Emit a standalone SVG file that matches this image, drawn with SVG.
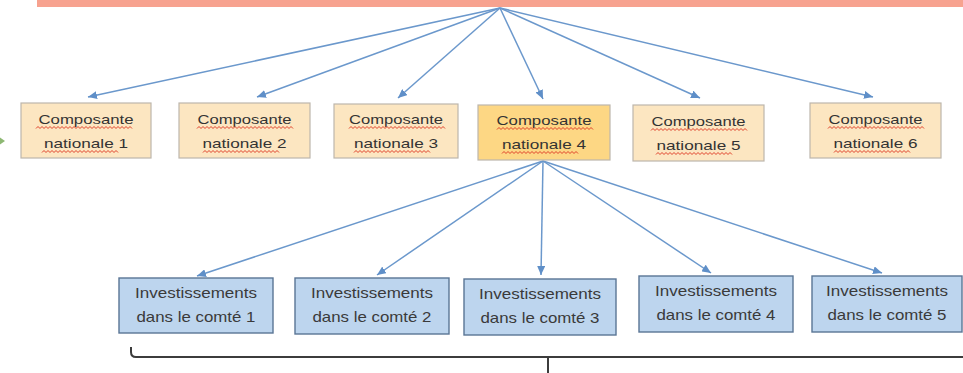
<svg xmlns="http://www.w3.org/2000/svg" width="963" height="373" viewBox="0 0 963 373">
<style>
.yb{fill:#FCE6C1;stroke:#BDB6AC;stroke-width:1.2}
.yb4{fill:#FDD784;stroke:#BDB6AC;stroke-width:1.2}
.bb{fill:#BDD5EE;stroke:#5A7595;stroke-width:1.4}
.t{font-family:"Liberation Sans","Open Sans",sans-serif;font-size:13.5px;fill:#333333;text-anchor:middle}
.tb{font-family:"Liberation Sans","Open Sans",sans-serif;font-size:14.5px;fill:#3A3A3A;text-anchor:middle}
.arr{fill:none;stroke:#6B98CC;stroke-width:1.5;marker-end:url(#ah)}
.sq{fill:none;stroke:#E0402A;stroke-width:1}
</style>
<defs>
<marker id="ah" markerUnits="userSpaceOnUse" markerWidth="10" markerHeight="8" refX="9" refY="4" orient="auto">
<path d="M0,0 L9,4 L0,8 z" fill="#5F8FC8"/>
</marker>
<path id="sqC" class="sq" d="M0,2 l2,-2 2,2 2,-2 2,2 2,-2 2,2 2,-2 2,2 2,-2 2,2 2,-2 2,2 2,-2 2,2 2,-2 2,2 2,-2 2,2 2,-2 2,2 2,-2 2,2 2,-2 2,2 2,-2 2,2 2,-2 2,2 2,-2 2,2 2,-2 2,2 2,-2 2,2 2,-2 2,2 2,-2 2,2 2,-2 2,2 2,-2 2,2 2,-2 2,2 2,-2 2,2 2,-2 2,2"/>
<path id="sqN" class="sq" d="M0,2 l2,-2 2,2 2,-2 2,2 2,-2 2,2 2,-2 2,2 2,-2 2,2 2,-2 2,2 2,-2 2,2 2,-2 2,2 2,-2 2,2 2,-2 2,2 2,-2 2,2 2,-2 2,2 2,-2 2,2 2,-2 2,2 2,-2 2,2 2,-2 2,2 2,-2 2,2 2,-2 2,2 2,-2 2,2"/>
</defs>
<rect x="0" y="0" width="963" height="373" fill="#FFFFFF"/>
<rect id="topbar" x="37" y="0" width="926" height="7" fill="#F7A28F"/>
<polygon points="0,137.5 5,141 0,144.5" fill="#8DB873"/>

<g id="connectors">
<line class="arr" x1="500" y1="8" x2="88" y2="97"/>
<line class="arr" x1="500" y1="8" x2="257" y2="97"/>
<line class="arr" x1="500" y1="8" x2="398" y2="98"/>
<line class="arr" x1="500" y1="8" x2="543" y2="99"/>
<line class="arr" x1="500" y1="8" x2="700" y2="98"/>
<line class="arr" x1="500" y1="8" x2="873" y2="97"/>
<line class="arr" x1="543" y1="161" x2="197" y2="276"/>
<line class="arr" x1="543" y1="161" x2="377" y2="275"/>
<line class="arr" x1="543" y1="161" x2="541" y2="275"/>
<line class="arr" x1="543" y1="161" x2="711" y2="273"/>
<line class="arr" x1="543" y1="161" x2="882" y2="273"/>
</g>

<g id="nat1">
<rect class="yb" x="21" y="103" width="130" height="55"/>
<text class="t" x="86" y="124" textLength="95" lengthAdjust="spacingAndGlyphs">Composante</text>
<text class="t" x="86" y="148" textLength="84" lengthAdjust="spacingAndGlyphs">nationale 1</text>
<use href="#sqC" x="36" y="126.5"/><use href="#sqN" x="42" y="150.5"/>
</g>
<g id="nat2">
<rect class="yb" x="179" y="103" width="131" height="55"/>
<text class="t" x="244.5" y="124" textLength="94" lengthAdjust="spacingAndGlyphs">Composante</text>
<text class="t" x="244.5" y="148" textLength="84" lengthAdjust="spacingAndGlyphs">nationale 2</text>
<use href="#sqC" x="197" y="126.5"/><use href="#sqN" x="203" y="150.5"/>
</g>
<g id="nat3">
<rect class="yb" x="334" y="104" width="124" height="54"/>
<text class="t" x="396" y="124" textLength="94" lengthAdjust="spacingAndGlyphs">Composante</text>
<text class="t" x="396" y="148" textLength="84" lengthAdjust="spacingAndGlyphs">nationale 3</text>
<use href="#sqC" x="349" y="126.5"/><use href="#sqN" x="354" y="150.5"/>
</g>
<g id="nat4">
<rect class="yb4" x="478" y="105" width="132" height="55"/>
<text class="t" x="544" y="125" textLength="95" lengthAdjust="spacingAndGlyphs">Composante</text>
<text class="t" x="544" y="149" textLength="84" lengthAdjust="spacingAndGlyphs">nationale 4</text>
<use href="#sqC" x="497" y="127.5"/><use href="#sqN" x="502" y="151.5"/>
</g>
<g id="nat5">
<rect class="yb" x="633" y="105" width="131" height="56"/>
<text class="t" x="698.5" y="126" textLength="94" lengthAdjust="spacingAndGlyphs">Composante</text>
<text class="t" x="698.5" y="150" textLength="84" lengthAdjust="spacingAndGlyphs">nationale 5</text>
<use href="#sqC" x="651" y="128.5"/><use href="#sqN" x="656" y="152.5"/>
</g>
<g id="nat6">
<rect class="yb" x="810" y="103" width="131" height="55"/>
<text class="t" x="875.5" y="124" textLength="94" lengthAdjust="spacingAndGlyphs">Composante</text>
<text class="t" x="875.5" y="148" textLength="84" lengthAdjust="spacingAndGlyphs">nationale 6</text>
<use href="#sqC" x="828" y="126.5"/><use href="#sqN" x="834" y="150.5"/>
</g>

<g id="inv1">
<rect class="bb" x="119" y="278" width="154" height="55"/>
<text class="tb" x="196" y="298" textLength="122" lengthAdjust="spacingAndGlyphs">Investissements</text>
<text class="tb" x="196" y="322" textLength="119" lengthAdjust="spacingAndGlyphs">dans le comté 1</text>
</g>
<g id="inv2">
<rect class="bb" x="295" y="278" width="154" height="56"/>
<text class="tb" x="372" y="298" textLength="122" lengthAdjust="spacingAndGlyphs">Investissements</text>
<text class="tb" x="372" y="322" textLength="119" lengthAdjust="spacingAndGlyphs">dans le comté 2</text>
</g>
<g id="inv3">
<rect class="bb" x="464" y="279" width="152" height="56"/>
<text class="tb" x="540" y="299" textLength="122" lengthAdjust="spacingAndGlyphs">Investissements</text>
<text class="tb" x="540" y="323" textLength="119" lengthAdjust="spacingAndGlyphs">dans le comté 3</text>
</g>
<g id="inv4">
<rect class="bb" x="639" y="276" width="154" height="56"/>
<text class="tb" x="716" y="296" textLength="122" lengthAdjust="spacingAndGlyphs">Investissements</text>
<text class="tb" x="716" y="320" textLength="119" lengthAdjust="spacingAndGlyphs">dans le comté 4</text>
</g>
<g id="inv5">
<rect class="bb" x="812" y="276" width="150" height="56"/>
<text class="tb" x="887" y="296" textLength="122" lengthAdjust="spacingAndGlyphs">Investissements</text>
<text class="tb" x="887" y="320" textLength="119" lengthAdjust="spacingAndGlyphs">dans le comté 5</text>
</g>

<g id="bracket" fill="none" stroke="#3C3C3C" stroke-width="2">
<path d="M131,347 V352 Q131,357 136,357 H963"/>
<path d="M548,357 V373"/>
</g>
</svg>
